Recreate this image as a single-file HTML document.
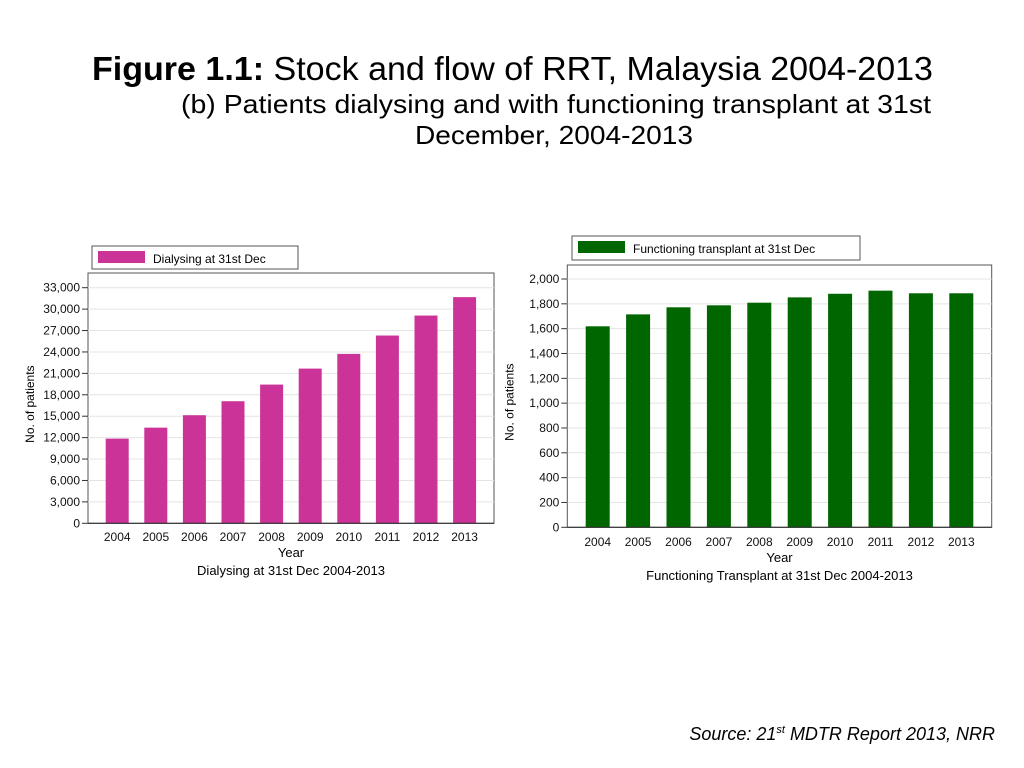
<!DOCTYPE html>
<html><head><meta charset="utf-8"><style>
body{margin:0;background:#fff;font-family:"Liberation Sans",Arial,sans-serif}
svg{display:block}
</style></head><body>
<svg width="1024" height="768" xmlns="http://www.w3.org/2000/svg" font-family="Liberation Sans, Arial, sans-serif">
<text x="92" y="80" font-size="33" textLength="841" lengthAdjust="spacingAndGlyphs"><tspan font-weight="bold">Figure 1.1:</tspan> Stock and flow of RRT, Malaysia 2004-2013</text>
<text x="181" y="113" font-size="26" textLength="750" lengthAdjust="spacingAndGlyphs">(b) Patients dialysing and with functioning transplant at 31st</text>
<text x="415" y="144" font-size="26" textLength="278" lengthAdjust="spacingAndGlyphs">December, 2004-2013</text>
<text x="995" y="740" font-size="18" font-style="italic" text-anchor="end">Source: 21<tspan font-size="11" dy="-7">st</tspan><tspan dy="7"> MDTR Report 2013, NRR</tspan></text>
<g id="left"></g>
<g id="right"></g>
</svg>
<script>
const years = ["2004","2005","2006","2007","2008","2009","2010","2011","2012","2013"];
const dialysing = [11860,13400,15140,17100,19430,21670,23730,26300,29100,31680];
const transplant = [1619,1715,1772,1788,1809,1852,1881,1906,1885,1885];
const leftTicks = [0,3000,6000,9000,12000,15000,18000,21000,24000,27000,30000,33000];
const rightTicks = [0,200,400,600,800,1000,1200,1400,1600,1800,2000];
const NS="http://www.w3.org/2000/svg";
function mk(p,t,a,txt){const e=document.createElementNS(NS,t);for(const k in a)e.setAttribute(k,a[k]);if(txt!=null)e.textContent=txt;p.appendChild(e);return e;}
function draw(g,cfg){
  const {L,T,R,B,topY,topV,bar0,step,bw,vals,ticks,color,leg,legText,sub,xlY}=cfg;
  const y=v=>B-(B-topY)*v/topV;
  const x=i=>bar0+i*step;
  const box=mk(g,'rect',{x:L,y:T,width:R-L,height:B-T,fill:'#fff',stroke:'#555','stroke-width':1});
  
  
  ticks.forEach(v=>{
    const yy=y(v);
    if(v>0){const gl=mk(g,'line',{x1:L,x2:R,y1:yy,y2:yy,stroke:'#e4e4e4','stroke-width':1});
      }
    const tk=mk(g,'line',{x1:L-6,x2:L,y1:yy,y2:yy,stroke:'#333','stroke-width':1});
    
    const tl=mk(g,'text',{x:L-8,y:yy+4,'font-size':12,'text-anchor':'end',fill:'#111'},v.toLocaleString('en-US'));
    
  });
  vals.forEach((v,i)=>{
    const r=mk(g,'rect',{x:x(i),y:y(v),width:bw,height:B-y(v),fill:color});
    
    const t=mk(g,'text',{x:x(i)+bw/2,y:xlY,'font-size':12,'text-anchor':'middle',fill:'#111'},years[i]);
    
  });
  const ax=mk(g,'line',{x1:L,x2:R,y1:B,y2:B,stroke:'#333','stroke-width':1.2});
  
  const cx=(L+R)/2;
  const yt=mk(g,'text',{x:cx,y:xlY+16,'font-size':13,'text-anchor':'middle'},'Year');
  
  const st=mk(g,'text',{x:cx,y:xlY+34,'font-size':13,'text-anchor':'middle'},sub);
  
  const ya=mk(g,'text',{x:0,y:0,'font-size':12,'text-anchor':'middle',transform:`translate(${L-54},${(T+B)/2+6}) rotate(-90)`},'No. of patients');
  
  const lg=mk(g,'g',{});
  
  mk(lg,'rect',{x:leg[0],y:leg[1],width:leg[2],height:leg[3],fill:'#fff',stroke:'#555'});
  const sw=mk(lg,'rect',{x:leg[0]+6,y:leg[1]+5,width:47,height:12,fill:color});
  
  const lt=mk(lg,'text',{x:leg[0]+61,y:leg[1]+17,'font-size':12},legText);
  
}
draw(document.getElementById('left'),{L:88,T:273,R:494,B:523.3,topY:287.7,topV:33000,bar0:105.7,step:38.6,bw:23,vals:dialysing,ticks:leftTicks,color:'#cc3399',leg:[92,246,206,23],legText:'Dialysing at 31st Dec',sub:'Dialysing at 31st Dec 2004-2013',xlY:541});
draw(document.getElementById('right'),{L:567.3,T:265,R:991.7,B:527.3,topY:279,topV:2000,bar0:585.7,step:40.4,bw:24,vals:transplant,ticks:rightTicks,color:'#006600',leg:[572,236,288,24],legText:'Functioning transplant at 31st Dec',sub:'Functioning Transplant at 31st Dec 2004-2013',xlY:546});
</script>
</body></html>
